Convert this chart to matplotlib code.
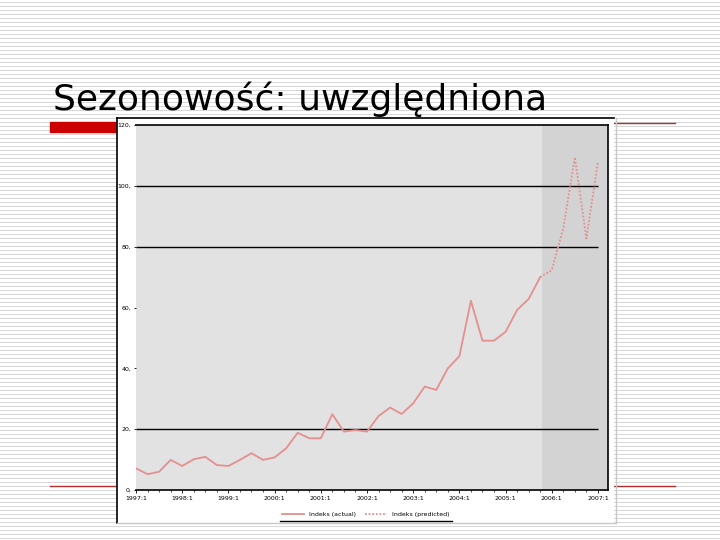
import numpy as np
import matplotlib
matplotlib.use("Agg")
import matplotlib.pyplot as plt
from matplotlib.patches import Rectangle
from matplotlib.lines import Line2D

# ---- data ----
title = "Sezonowość: uwzględniona"
actual = [7.1, 5.2, 6.0, 9.9, 7.9, 10.1, 10.9, 8.2, 7.9, 9.9, 12.1, 9.9,
          10.7, 13.7, 18.8, 17.0, 17.0, 24.9, 19.2, 19.7, 19.2, 24.3, 27.1, 25.0,
          28.5, 34.0, 32.9, 40.0, 44.0, 62.2, 49.1, 49.1, 52.0, 59.2, 62.8, 70.0]
forecast = [70.0, 72.3, 86.0, 109.4, 82.7, 108.0]
forecast_start = 35
xtick_labels = ["1997:1", "1998:1", "1999:1", "2000:1", "2001:1", "2002:1",
                "2003:1", "2004:1", "2005:1", "2006:1", "2007:1"]
ytick_values = [0, 20, 40, 60, 80, 100, 120]
grid_values = [20, 80, 100]
legend_labels = ["Indeks (actual)", "Indeks (predicted)"]

LINE_COLOR = "#e58f8f"
RED = "#cc0000"

W, H = 720, 540
fig = plt.figure(figsize=(7.2, 5.4), dpi=100)

# ---- slide background (pixel coords) ----
bg = fig.add_axes([0, 0, 1, 1])
bg.set_xlim(0, W)
bg.set_ylim(H, 0)
bg.axis("off")
bg.add_patch(Rectangle((0, 0), W, H, color="white", zorder=0))
for y in np.arange(1.5, H, 4):
    bg.plot([0, W], [y, y], color="#d6d6d6", lw=0.7, zorder=1)

bg.text(53, 110, title, fontsize=26, family="DejaVu Sans", color="black",
        va="baseline", ha="left", zorder=3)

# red decorations
bg.add_patch(Rectangle((50, 122), 70, 10, color=RED, zorder=2))
bg.plot([614, 675], [123, 123], color="#b03030", lw=1.0, zorder=2)
bg.plot([50, 118], [486, 486], color="#b03030", lw=1.0, zorder=2)
bg.plot([614, 675], [486, 486], color="#b03030", lw=1.0, zorder=2)

# chart "picture" box
bg.add_patch(Rectangle((117, 118), 497, 405, facecolor="white",
                       edgecolor="none", zorder=4))
bg.plot([117, 117], [118, 523], color="black", lw=1.2, zorder=5)
bg.plot([117, 614], [118, 118], color="black", lw=1.2, zorder=5)
bg.plot([117, 616], [523, 523], color="#c8c8c8", lw=1.0, zorder=5)
bg.plot([616, 616], [118, 523], color="#c8c8c8", lw=1.0, zorder=5)

# ---- plot area ----
ax = fig.add_axes([136 / W, 1 - 490 / H, 472 / W, 365 / H])
ax.set_zorder(10)
ax.set_facecolor("#e2e2e2")
n = len(actual) + len(forecast) - 1
ax.set_xlim(0, n - 1 + 0.87)
ax.set_ylim(0, 120)

ax.axvspan(forecast_start + 0.15, n - 1 + 0.87, color="#d3d3d3", lw=0, zorder=0)
ax.hlines(grid_values, 0, n - 1, color="black", lw=1.0, zorder=1)

x_act = np.arange(len(actual))
x_fc = np.arange(forecast_start, forecast_start + len(forecast))
ax.plot(x_act, actual, color=LINE_COLOR, lw=1.3, zorder=3)
ax.plot(x_fc, forecast, color=LINE_COLOR, lw=1.3, ls=(0, (1, 1)), zorder=3)

for side in ["top", "right", "bottom"]:
    ax.spines[side].set_color("black")
    ax.spines[side].set_linewidth(1.2)
ax.spines["left"].set_visible(False)

ax.set_yticks(ytick_values)
ax.set_yticklabels([f"{v}," for v in ytick_values], fontsize=4.5)
ax.tick_params(axis="y", length=1.5, width=0.6, pad=2)
ax.set_xticks(np.arange(0, n, 4))
ax.set_xticklabels(xtick_labels, fontsize=4.5)
ax.set_xticks(np.arange(0, n), minor=True)
ax.tick_params(axis="x", which="major", length=2.5, width=0.6, pad=2)
ax.tick_params(axis="x", which="minor", length=1.5, width=0.5)

# ---- legend below the plot ----
handles = [Line2D([], [], color=LINE_COLOR, lw=1.3),
           Line2D([], [], color=LINE_COLOR, lw=1.3, ls=(0, (1, 1)))]
leg = fig.legend(handles, legend_labels, loc="center", ncol=2,
                 bbox_to_anchor=(366 / W, 1 - 514 / H), fontsize=4.5,
                 frameon=False, handlelength=3.5, columnspacing=1.5)
leg.set_zorder(11)
bg.plot([280, 452], [521, 521], color="black", lw=1.0, zorder=6)

fig.savefig("out.png", dpi=100)
